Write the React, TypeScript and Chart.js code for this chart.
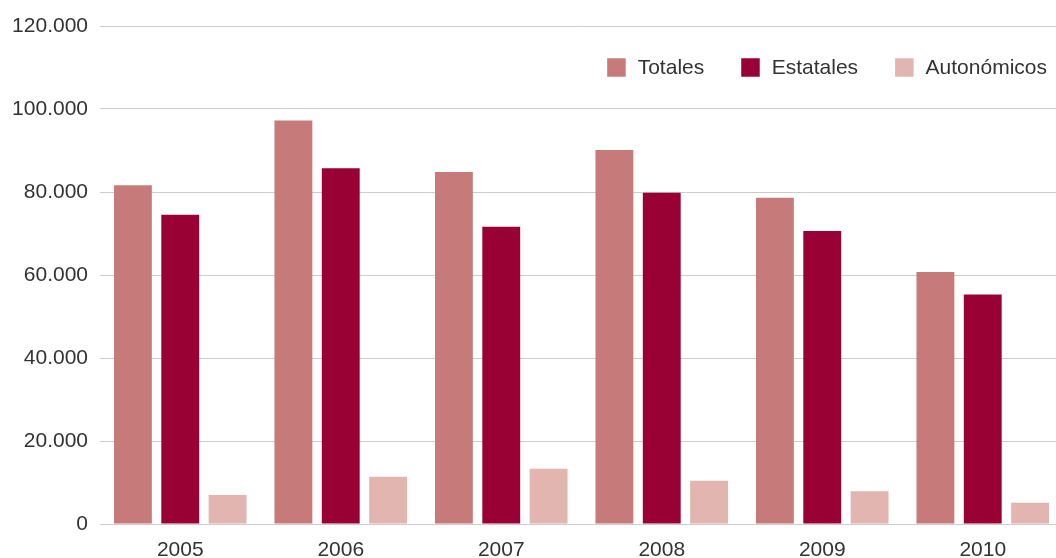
import React, { useEffect, useRef } from "react";
import { Chart, registerables } from "chart.js";

Chart.register(...registerables);

const categories = ["2005", "2006", "2007", "2008", "2009", "2010"];
const totales = [81600, 97200, 84800, 90100, 78600, 60700];
const estatales = [74500, 85700, 71600, 79800, 70600, 55300];
const autonomicos = [7000, 11400, 13300, 10400, 7900, 5100];
const seriesNames = ["Totales", "Estatales", "Autonómicos"];
const seriesColors = ["#C67B7A", "#990033", "#E2B5B0"];

const FONT = "'Liberation Sans', Arial, sans-serif";
const TEXT_COLOR = "#333333";

function formatThousands(v: number): string {
  return String(Math.round(v)).replace(/\B(?=(\d{3})+(?!\d))/g, ".");
}

const legendPlugin = {
  id: "insideLegend",
  afterDraw(chart: any) {
    const ctx = chart.ctx as CanvasRenderingContext2D;
    const datasets = chart.data.datasets;
    const fontSize = 21;
    const box = 18.5;
    const boxGap = 12;
    const itemGap = 37;
    const right = 1047;
    const cy = 67.5;
    ctx.save();
    ctx.font = `${fontSize}px ${FONT}`;
    ctx.textBaseline = "middle";
    ctx.textAlign = "left";
    const widths = datasets.map((d: any) => ctx.measureText(d.label).width);
    let total = 0;
    widths.forEach((w: number, i: number) => {
      total += box + boxGap + w + (i < widths.length - 1 ? itemGap : 0);
    });
    let x = right - total;
    datasets.forEach((d: any, i: number) => {
      ctx.fillStyle = d.backgroundColor;
      ctx.fillRect(x, cy - box / 2, box, box);
      x += box + boxGap;
      ctx.fillStyle = TEXT_COLOR;
      ctx.fillText(d.label, x, cy + 1);
      x += widths[i] + itemGap;
    });
    ctx.restore();
  },
};

export default function App() {
  const canvasRef = useRef<HTMLCanvasElement | null>(null);

  useEffect(() => {
    if (!canvasRef.current) return;
    const seriesData = [totales, estatales, autonomicos];
    const chart = new Chart(canvasRef.current, {
      type: "bar",
      data: {
        labels: categories,
        datasets: seriesData.map((data, i) => ({
          label: seriesNames[i],
          data,
          backgroundColor: seriesColors[i],
          borderWidth: 0,
          categoryPercentage: 0.885,
          barPercentage: 0.8,
        })),
      },
      options: {
        responsive: false,
        animation: false,
        layout: { padding: { top: 26, left: 0, right: 0, bottom: 0 } },
        plugins: {
          legend: { display: false },
          tooltip: { enabled: false },
        },
        scales: {
          x: {
            grid: { display: false, drawTicks: false },
            border: { display: false },
            ticks: {
              color: TEXT_COLOR,
              font: { family: FONT, size: 21, lineHeight: 1 },
              padding: 16,
              maxRotation: 0,
            },
            afterFit(scale: any) {
              scale.height = 34;
            },
          },
          y: {
            min: 0,
            max: 120000,
            grid: { color: "#cccccc", lineWidth: 1, drawTicks: false },
            border: { display: false },
            ticks: {
              stepSize: 20000,
              color: TEXT_COLOR,
              font: { family: FONT, size: 21 },
              padding: 12,
              callback: (v: any) => formatThousands(Number(v)),
            },
            afterFit(scale: any) {
              scale.width = 100;
            },
          },
        },
      },
      plugins: [legendPlugin],
    });
    return () => chart.destroy();
  }, []);

  return (
    <div style={{ position: "absolute", left: 0, top: 0, width: 1056, height: 558, overflow: "hidden", background: "#ffffff" }}>
      <canvas ref={canvasRef} width={1063} height={558} style={{ display: "block" }} />
    </div>
  );
}
